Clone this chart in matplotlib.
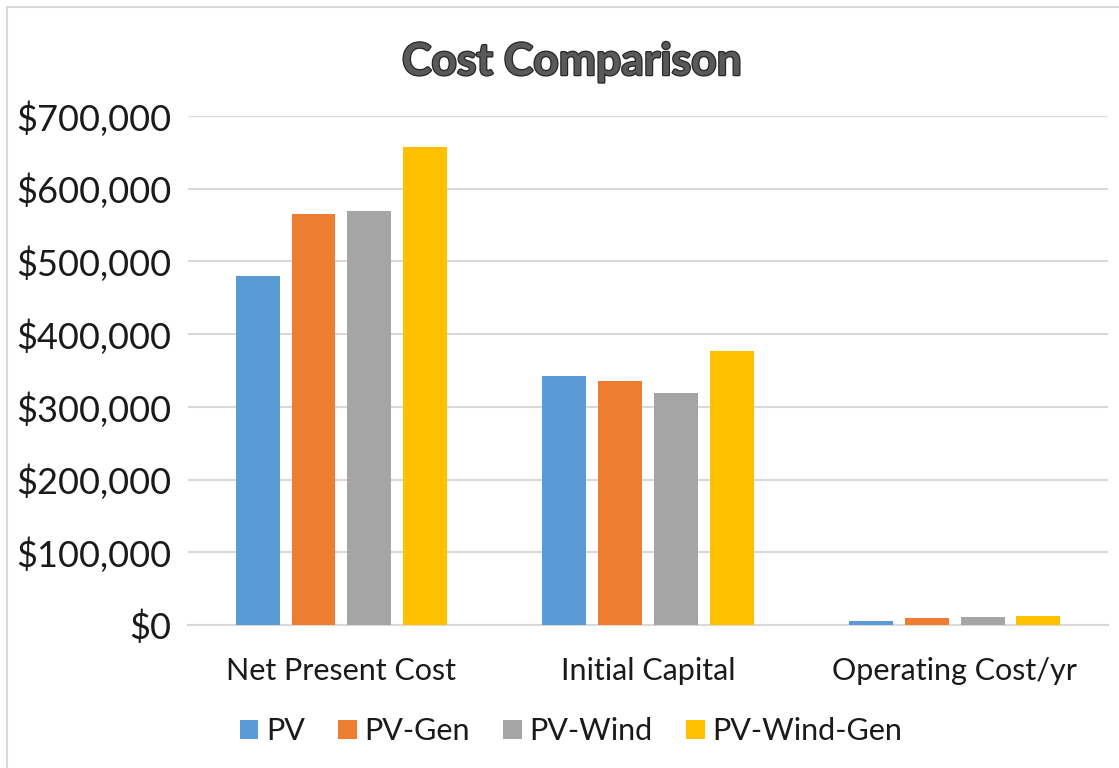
import matplotlib
matplotlib.use("Agg")
import matplotlib.pyplot as plt
import matplotlib.patheffects as pe
from matplotlib.patches import Rectangle
from matplotlib.ticker import FuncFormatter
import numpy as np

categories = ["Net Present Cost", "Initial Capital", "Operating Cost/yr"]
series_names = ["PV", "PV-Gen", "PV-Wind", "PV-Wind-Gen"]
npc = [480000, 565000, 569000, 657000]
initial_capital = [343000, 336000, 319000, 377000]
operating_cost = [5000, 10000, 11000, 13000]
colors = ["#5B9BD5", "#ED7D31", "#A5A5A5", "#FFC000"]
y_ticks = [0, 100000, 200000, 300000, 400000, 500000, 600000, 700000]

# values per series across the three categories
values = np.array([npc, initial_capital, operating_cost]).T

plt.rcParams["font.family"] = ["Lato", "DejaVu Sans"]

fig = plt.figure(figsize=(11.19, 7.68), dpi=100)
fig.patch.set_facecolor("white")
ax = fig.add_axes([188 / 1119, 1 - 625 / 768, 920 / 1119, 509 / 768])

# outer chart border
fig.add_artist(Rectangle((7 / 1119, -0.05), 1.2, 1 - 7 / 768 + 0.05,
                         transform=fig.transFigure, fill=False,
                         edgecolor="#d9d9d9", linewidth=1.5))

x = np.arange(len(categories))
step = 0.182
width = 0.143
for i, name in enumerate(series_names):
    ax.bar(x + (i - 1.5) * step, values[i], width=width, color=colors[i],
           label=name, zorder=3)

ax.set_xlim(-0.5, 2.5)
ax.set_ylim(0, 700000)
ax.set_yticks(y_ticks)
ax.yaxis.set_major_formatter(FuncFormatter(lambda v, p: f"${int(v):,}"))
ax.set_xticks(x)
ax.set_xticklabels(categories)
ax.tick_params(axis="both", length=0, labelcolor="#1a1a1a")
ax.tick_params(axis="y", pad=12, labelsize=26)
ax.tick_params(axis="x", pad=23, labelsize=22)
ax.grid(axis="y", color="#d9d9d9", linewidth=1.5, zorder=0)
for s in ["top", "right", "left"]:
    ax.spines[s].set_visible(False)
ax.spines["bottom"].set_color("#d9d9d9")
ax.spines["bottom"].set_linewidth(1.5)

fig.text(572 / 1119, 1 - 62 / 768, "Cost Comparison", ha="center", va="center",
         fontsize=32, fontweight="bold", color="#595959",
         path_effects=[pe.withStroke(linewidth=1.8, foreground="#262626")])

fig.legend(loc="center", bbox_to_anchor=(571 / 1119, 1 - 731 / 768), ncol=4,
           frameon=False, fontsize=22, handlelength=0.6, handleheight=0.6,
           handletextpad=0.25, columnspacing=1.1, labelcolor="#1a1a1a")

fig.savefig("out.png", dpi=100, facecolor="white")
